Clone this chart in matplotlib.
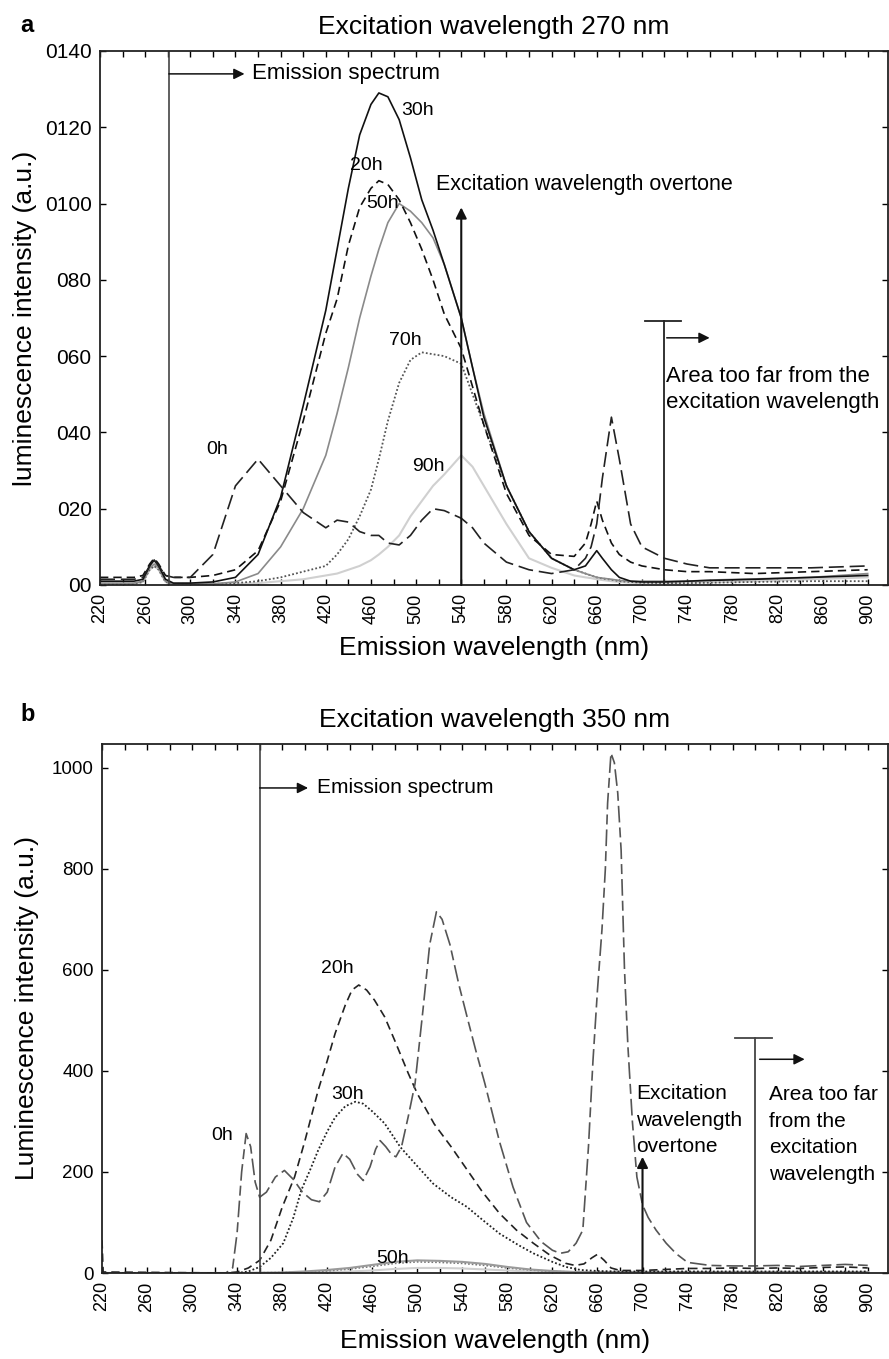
import numpy as np
import matplotlib
matplotlib.use("Agg")
import matplotlib.pyplot as plt

plt.rcParams['font.family'] = ['Liberation Sans', 'DejaVu Sans']

# ---- panel a : excitation 270 nm ----
wl_a = [220, 250, 258, 264, 268, 272, 278, 285, 300, 320, 340, 360, 380, 400, 420, 430,
        440, 450, 460, 467, 475, 485, 495, 505, 515, 525, 540, 550, 560, 580, 600, 620, 640,
        650, 655, 660, 665, 673, 680, 690, 700, 720, 740, 760, 800, 850, 900]
a_0h = [1.5, 1.5, 2, 5, 6.5, 5, 2.5, 2, 2, 8, 26, 33, 26, 19, 15, 17,
        16.5, 14, 13, 13, 11, 10.5, 13, 17, 20, 19.5, 17.5, 15, 11, 6, 4, 3, 4,
        7, 10, 16, 28, 44, 33, 16, 10, 7, 5.5, 4.5, 4.5, 4.5, 5]
a_20h = [2, 2, 2.5, 5.5, 7, 5.5, 2.5, 2, 2, 2.5, 4, 9, 22, 43, 66, 75,
         89, 99, 104, 106, 105, 101, 95, 88, 80, 71, 62, 52, 42, 24, 13, 8, 7.5,
         11, 16, 22, 17, 11, 8, 6, 5, 4, 3.5, 3.5, 3, 3.5, 4]
a_30h = [1, 1, 1.5, 5, 6.5, 5, 1.5, 0.5, 0.5, 0.8, 2, 8, 23, 47, 72, 88,
         104, 118, 126, 129, 128, 122, 112, 101, 93, 84, 70, 57, 44, 26, 14, 7, 4,
         5, 7, 9, 7, 4, 2, 1, 0.8, 0.8, 1, 1.2, 1.5, 2, 2.5]
a_50h = [0.5, 0.5, 1, 4.5, 5.5, 4.5, 1, 0.3, 0.3, 0.3, 0.8, 3, 10, 20, 34, 45,
         57, 70, 81, 88, 95, 100, 98, 95, 91, 84, 70, 57, 45, 26, 14, 7, 4,
         3, 2.5, 2, 1.8, 1.5, 1.2, 1, 1, 1, 1, 1.3, 1.6, 2, 3]
a_70h = [0.3, 0.3, 0.8, 4, 5, 4, 0.8, 0.3, 0.3, 0.3, 0.5, 1, 2, 3.5, 5, 8,
         12, 18, 25, 33, 43, 53, 59, 61, 60.5, 60, 58, 50, 42, 26, 14, 7, 4,
         3, 2.5, 2, 1.7, 1.4, 1, 0.8, 0.6, 0.5, 0.5, 0.6, 0.8, 1, 1]
a_90h = [0.3, 0.3, 0.8, 4, 5, 4, 0.8, 0.3, 0.3, 0.3, 0.3, 0.5, 1, 1.5, 2.5, 3,
         4, 5, 6.5, 8, 10, 13, 18, 22, 26, 29, 34, 31, 26, 16, 7, 4.5, 2.5,
         2, 1.8, 1.5, 1.3, 1, 0.8, 0.6, 0.5, 0.5, 0.6, 0.7, 1, 1.5, 2]
ytick_a = [0, 20, 40, 60, 80, 100, 120, 140]
ylab_a = ['00', '020', '040', '060', '080', '0100', '0120', '0140']

# ---- panel b : excitation 350 nm ----
b0_x = [220, 330, 336, 340, 344, 348, 352, 356, 360, 366, 374, 382, 390, 398, 406, 413,
        420, 427, 434, 440, 447, 452, 458, 463, 467, 472, 477, 481, 486, 492, 498, 505,
        511, 517, 522, 529, 537, 545, 552, 560, 573, 585, 597, 610, 620, 627, 634, 641,
        647, 652, 656, 660, 664, 667, 669, 672, 675, 678, 681, 684, 687, 691, 695, 700,
        705, 712, 721, 730, 740, 760, 780, 800, 820, 840, 860, 880, 900]
b0_y = [0, 0, 10, 80, 200, 276, 250, 180, 150, 160, 190, 203, 185, 160, 145, 141,
        160, 210, 237, 225, 195, 183, 210, 245, 262, 250, 235, 230, 250, 310, 375, 520,
        650, 715, 700, 650, 570, 500, 440, 375, 260, 170, 100, 62, 45, 39, 42, 59,
        85, 250, 420, 560, 680, 800, 930, 1029, 1010, 950, 837, 600, 450, 300, 190, 135,
        110, 85, 59, 38, 21, 15, 14, 14, 15, 13, 15, 17, 15]
b20_x = [220, 221, 330, 340, 350, 360, 370, 380, 391, 400, 412, 420, 427, 436, 442, 448,
         455, 462, 471, 480, 492, 500, 515, 530, 544, 558, 573, 588, 603, 618, 632, 640,
         648, 655, 660, 666, 672, 680, 700, 720, 740, 760, 780, 800, 820, 840, 860, 880, 900]
b20_y = [65, 2, 0, 2, 10, 25, 65, 130, 190, 260, 362, 420, 474, 530, 560, 570,
         560, 540, 507, 460, 395, 355, 295, 250, 205, 160, 118, 85, 59, 35, 19, 15,
         18, 30, 37, 25, 10, 5, 5, 7, 9, 9, 10, 9, 10, 9, 11, 12, 10]
b30_x = [220, 340, 350, 360, 370, 381, 390, 397, 405, 412, 420, 427, 436, 445, 452, 460,
         471, 485, 501, 514, 530, 544, 558, 573, 590, 603, 620, 632, 645, 660, 680, 700, 800, 900]
b30_y = [0, 0, 3, 12, 30, 59, 110, 164, 205, 243, 280, 308, 330, 339, 335, 320,
         296, 249, 209, 177, 150, 131, 105, 78, 55, 39, 22, 12, 6, 4, 3, 3, 3, 3]
b50_x = [220, 340, 380, 400, 420, 440, 460, 480, 500, 520, 540, 560, 580, 600, 620, 640, 660, 700, 800, 900]
b50_y = [0, 0, 1, 3, 6, 10, 16, 22, 25, 24, 22, 18, 12, 7, 4, 2, 2, 2, 2, 2]
b70_y = [0, 0, 1, 2, 4, 8, 13, 19, 22, 21, 19, 15, 10, 6, 3, 2, 1, 1, 1, 1]
b90_y = [0, 0, 0, 1, 2, 3, 5, 8, 10, 10, 9, 7, 5, 3, 2, 1, 1, 1, 1, 1]
ytick_b = [0, 200, 400, 600, 800, 1000]

xticks = np.arange(220, 901, 20)


def style_axes(ax, ymax, ylabsize):
    ax.set_xlim(220, 918)
    ax.set_ylim(0, ymax)
    ax.set_xticks(xticks)
    ax.set_xticklabels([str(t) if (t - 220) % 40 == 0 else '' for t in xticks],
                       rotation=90, fontsize=13)
    ax.tick_params(direction='in', top=True, right=True, length=4, width=1, pad=6)
    ax.tick_params(axis='y', labelsize=ylabsize)
    for s in ax.spines.values():
        s.set_linewidth(1.3)
        s.set_color('#222')


fig = plt.figure(figsize=(8.89, 13.59), dpi=100)
ax1 = fig.add_axes([100 / 889, 1 - 585 / 1359, 788 / 889, 534 / 1359])
ax2 = fig.add_axes([102 / 889, 1 - 1273 / 1359, 786 / 889, 529 / 1359])

# panel a curves
ax1.plot(wl_a, a_90h, color='#d0d0d0', lw=1.5)
ax1.plot(wl_a, a_70h, color='#555555', lw=1.3, ls=(0, (1, 1.2)))
ax1.plot(wl_a, a_50h, color='#8a8a8a', lw=1.2)
ax1.plot(wl_a, a_30h, color='#111111', lw=1.2)
ax1.plot(wl_a, a_20h, color='#111111', lw=1.2, ls=(0, (5, 3)))
ax1.plot(wl_a, a_0h, color='#222222', lw=1.2, ls=(0, (9, 3.5)))

style_axes(ax1, 140, 15)
ax1.set_yticks(ytick_a)
ax1.set_yticklabels(ylab_a)
ax1.set_title('Excitation wavelength 270 nm', fontsize=19, pad=12)
ax1.set_xlabel('Emission wavelength (nm)', fontsize=19)
ax1.xaxis.set_label_coords(0.5, -0.095)
ax1.set_ylabel('luminescence intensity (a.u.)', fontsize=19)
ax1.yaxis.set_label_coords(-0.08, 0.5)

arrow = dict(arrowstyle='-|>', color='#111', lw=1.1, mutation_scale=16, shrinkA=0, shrinkB=0)
ax1.axvline(281, color='#444', lw=1.2)
ax1.annotate('', xy=(348, 134), xytext=(281, 134), arrowprops=arrow)
ax1.text(355, 134, 'Emission spectrum', fontsize=16, va='center')
ax1.annotate('', xy=(540, 99), xytext=(540, 0), arrowprops=dict(arrow, lw=1.5))
ax1.text(518, 105, 'Excitation wavelength overtone', fontsize=15.5, va='center')
ax1.plot([720, 720], [0, 69.3], color='#222', lw=1.3)
ax1.plot([703, 735], [69.3, 69.3], color='#222', lw=1.3)
ax1.annotate('', xy=(760, 64.8), xytext=(722, 64.8), arrowprops=arrow)
ax1.text(721, 51.2, 'Area too far from the\nexcitation wavelength', fontsize=16,
         va='center', linespacing=1.29)
for lab, x, y in [('30h', 501, 124.5), ('20h', 456, 110), ('50h', 470, 100),
                  ('70h', 490, 64), ('90h', 511, 31), ('0h', 324, 35.4)]:
    ax1.text(x, y, lab, fontsize=14, ha='center', va='center')

# panel b curves
ax2.plot(b50_x, b90_y, color='#d0d0d0', lw=1.5)
ax2.plot(b50_x, b70_y, color='#777777', lw=1.2, ls=(0, (1, 1.2)))
ax2.plot(b50_x, b50_y, color='#9a9a9a', lw=1.5)
ax2.plot(b30_x, b30_y, color='#222222', lw=1.3, ls=(0, (1, 1.2)))
ax2.plot(b20_x, b20_y, color='#222222', lw=1.2, ls=(0, (5, 3)))
ax2.plot(b0_x, b0_y, color='#555555', lw=1.2, ls=(0, (10, 3, 6, 3)))

style_axes(ax2, 1047, 13.5)
ax2.set_yticks(ytick_b)
ax2.set_title('Excitation wavelength 350 nm', fontsize=19, pad=12)
ax2.set_xlabel('Emission wavelength (nm)', fontsize=19)
ax2.xaxis.set_label_coords(0.5, -0.105)
ax2.set_ylabel('Luminescence intensity (a.u.)', fontsize=19)
ax2.yaxis.set_label_coords(-0.08, 0.5)

ax2.axvline(360, color='#444', lw=1.2)
ax2.annotate('', xy=(403, 960), xytext=(360, 960), arrowprops=arrow)
ax2.text(411, 960, 'Emission spectrum', fontsize=15, va='center')
ax2.annotate('', xy=(700, 230), xytext=(700, 0), arrowprops=dict(arrow, lw=1.5))
ax2.text(694, 302, 'Excitation\nwavelength\novertone', fontsize=15, va='center',
         linespacing=1.5)
ax2.plot([800, 800], [0, 465], color='#444', lw=1.3)
ax2.plot([782, 815], [465, 465], color='#444', lw=1.3)
ax2.annotate('', xy=(844, 423), xytext=(804, 423), arrowprops=arrow)
ax2.text(812, 274, 'Area too far\nfrom the\nexcitation\nwavelength', fontsize=15,
         va='center', linespacing=1.5)
for lab, x, y in [('20h', 429, 603), ('30h', 438, 354), ('0h', 327, 272), ('50h', 478, 29)]:
    ax2.text(x, y, lab, fontsize=14, ha='center', va='center')

fig.text(27 / 889, 1 - 25 / 1359, 'a', fontsize=17, fontweight='bold', ha='center', va='center')
fig.text(28 / 889, 1 - 715 / 1359, 'b', fontsize=17, fontweight='bold', ha='center', va='center')

fig.savefig('out.png', dpi=100)
